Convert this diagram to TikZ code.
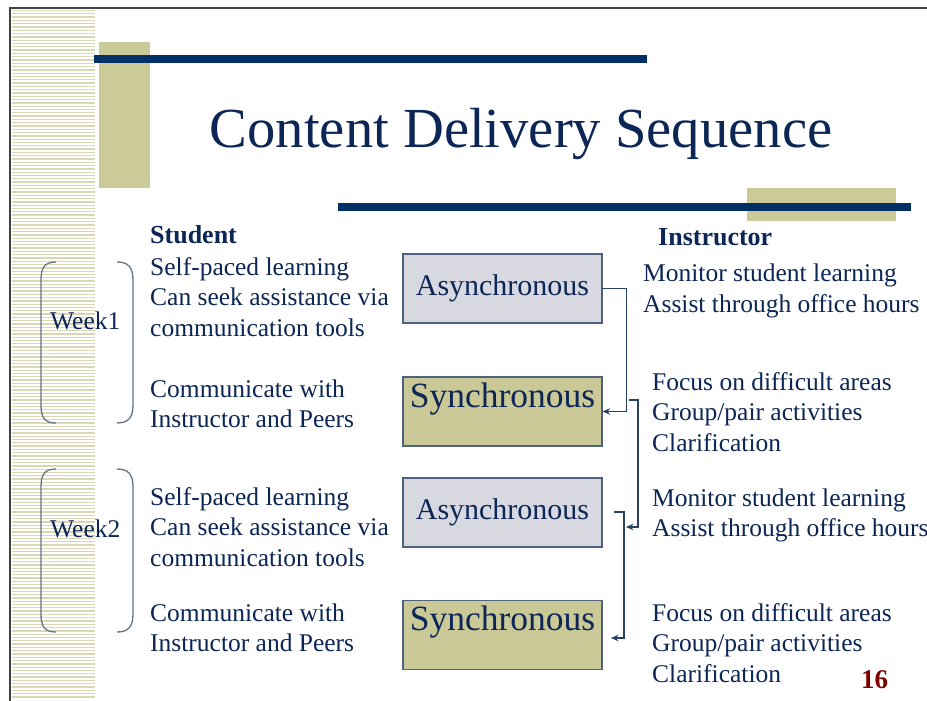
\documentclass[tikz,border=0pt]{standalone}
\usepackage{fontspec}
\setmainfont{Liberation Serif}
\usetikzlibrary{arrows.meta}
\definecolor{navy}{RGB}{12,38,86}
\definecolor{barblue}{RGB}{0,48,102}
\definecolor{khaki}{RGB}{203,202,153}
\definecolor{stripecol}{RGB}{218,215,180}
\definecolor{asyncfill}{RGB}{216,216,224}
\definecolor{syncfill}{RGB}{201,200,150}
\definecolor{boxedge}{RGB}{78,98,128}
\definecolor{bracecol}{RGB}{100,115,135}
\definecolor{linkcol}{RGB}{40,65,100}
\definecolor{pagenum}{RGB}{128,0,0}
\begin{document}
\begin{tikzpicture}[x=1pt,y=-1pt,
  % multi-line blocks are placed by the baseline of their last line
  body/.style={anchor=base west, align=left, text=navy, inner sep=0pt,
    font=\fontsize{25.5}{30.5}\selectfont},
  head/.style={anchor=base west, text=navy, inner sep=0pt,
    font=\fontsize{26}{30}\selectfont\bfseries},
  asyncbox/.style={draw=boxedge, line width=1.2pt, fill=asyncfill,
    minimum width=199pt, minimum height=69pt, inner sep=0pt, text=navy,
    font=\fontsize{30}{34}\selectfont, text height=20.5pt, text depth=7.5pt},
  syncbox/.style={draw=boxedge, line width=1.2pt, fill=syncfill,
    minimum width=199pt, minimum height=69pt, inner sep=0pt, text=navy,
    font=\fontsize{35.5}{40}\selectfont, text height=24.2pt, text depth=33pt},
  link/.style={draw=linkcol, line width=1.1pt, -{Stealth[length=7.5pt,width=6.5pt]}},
  brace/.style={draw=bracecol, line width=1.3pt},
  bar/.style={fill=barblue},
  block/.style={fill=khaki}]

% page
\fill[white] (0,0) rectangle (927,701);
\useasboundingbox (0,0) rectangle (927,701);

% striped margin
\foreach \y in {10.5,13.8,...,700}
  \draw[stripecol, line width=1.3pt] (12,\y) -- (95,\y);
\draw[black!75, line width=1.4pt] (10,701) -- (10,8) -- (927,8);

% title decoration
\fill[block] (99,42) rectangle (150,188);
\fill[bar] (94,55) rectangle (647,63);
\fill[block] (747,188) rectangle (896,221);
\fill[bar] (338,203) rectangle (911,211);

\node[anchor=base, text=navy, inner sep=0pt, font=\fontsize{56.6}{60}\selectfont]
  (title) at (521,147) {Content Delivery Sequence};

% column headings
\node[head] (student) at (150,243) {Student};
\node[head] (instructor) at (658,245) {Instructor};

% week brackets
\draw[brace] (56,262) .. controls (45,262) and (41,267) .. (41,280) -- (41,405)
  .. controls (41,418) and (45,423) .. (56,423);
\draw[brace] (117,262) .. controls (128,262) and (133,267) .. (133,280) -- (133,405)
  .. controls (133,418) and (128,423) .. (117,423);
\draw[brace] (56,469) .. controls (45,469) and (41,474) .. (41,487) -- (41,614)
  .. controls (41,627) and (45,632) .. (56,632);
\draw[brace] (117,469) .. controls (128,469) and (133,474) .. (133,487) -- (133,614)
  .. controls (133,627) and (128,632) .. (117,632);
\node[body] (wk1) at (50,329) {Week1};
\node[body] (wk2) at (50,537) {Week2};

% student activities
\node[body] (sa1) at (150,336) {Self-paced learning\\Can seek assistance via\\communication tools};
\node[body] (ss1) at (150,427.5) {Communicate with\\Instructor and Peers};
\node[body] (sa2) at (150,566) {Self-paced learning\\Can seek assistance via\\communication tools};
\node[body] (ss2) at (150,651.5) {Communicate with\\Instructor and Peers};

% delivery modes
\node[asyncbox] (a1) at (502.5,288.5) {Asynchronous};
\node[syncbox]  (s1) at (502.5,411.5) {Synchronous};
\node[asyncbox] (a2) at (502.5,512.5) {Asynchronous};
\node[syncbox]  (s2) at (502.5,635) {Synchronous};

% instructor activities
\node[body] (ia1) at (643,312) {Monitor student learning\\Assist through office hours};
\node[body] (is1) at (652,451) {Focus on difficult areas\\Group/pair activities\\Clarification};
\node[body] (ia2) at (652,536.5) {Monitor student learning\\Assist through office hours};
\node[body] (is2) at (652,682) {Focus on difficult areas\\Group/pair activities\\Clarification};

% sequence connectors
\coordinate (c2s) at (629,400);
\coordinate (c2e) at (626,527);
\coordinate (c3s) at (614,512);
\coordinate (c3e) at (611,638);
\draw[link] (a1.east) -- ++(24,0) |- (s1.east);
\draw[link] (c2s) -- ++(9,0) |- (c2e);
\draw[link] (c3s) -- ++(10,0) |- (c3e);

% slide number
\node[anchor=base west, inner sep=0pt, text=pagenum, font=\fontsize{27}{30}\selectfont\bfseries]
  (pnum) at (861,688) {16};
\end{tikzpicture}
\end{document}
